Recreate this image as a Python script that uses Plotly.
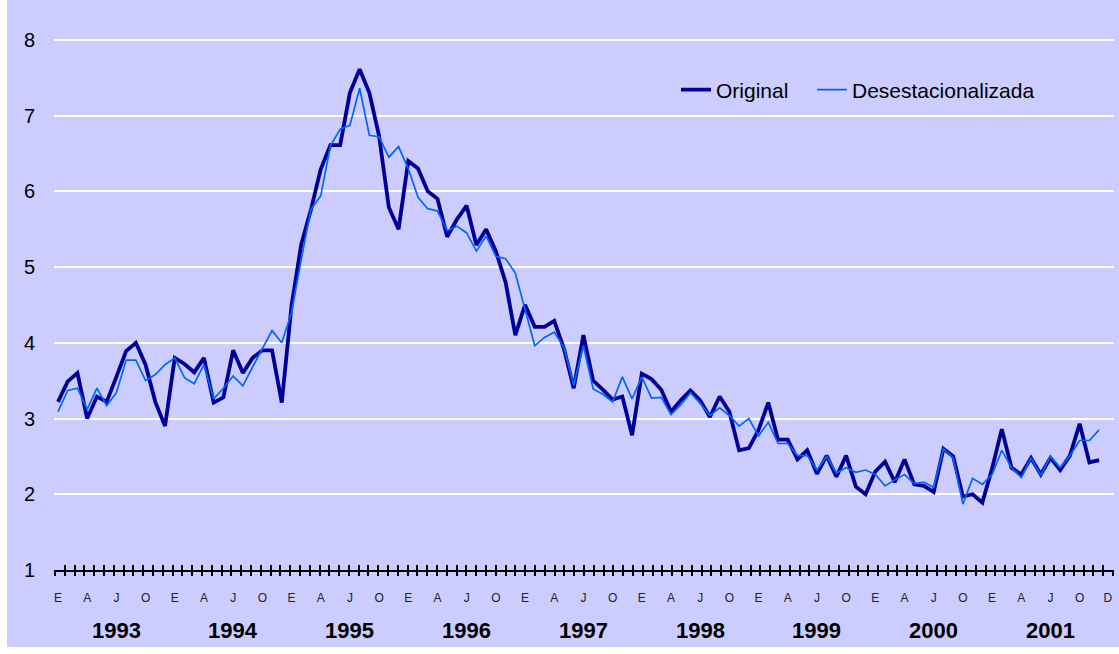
import plotly.graph_objects as go

# ---------------- data ----------------
YEARS = [1993, 1994, 1995, 1996, 1997, 1998, 1999, 2000, 2001]
QUARTER_LETTERS = ["E", "A", "J", "O"]   # enero, abril, julio, octubre
END_LETTER = "D"                          # diciembre 2001

ORIGINAL = [
    3.22, 3.49, 3.60, 3.00, 3.29, 3.22, 3.55, 3.89, 4.00, 3.71, 3.22, 2.90,   # 1993
    3.80, 3.72, 3.61, 3.80, 3.21, 3.28, 3.90, 3.60, 3.80, 3.90, 3.90, 3.21,   # 1994
    4.49, 5.30, 5.76, 6.29, 6.61, 6.61, 7.30, 7.61, 7.30, 6.73, 5.79, 5.50,   # 1995
    6.40, 6.30, 6.00, 5.90, 5.40, 5.63, 5.81, 5.29, 5.50, 5.21, 4.80, 4.10,   # 1996
    4.50, 4.21, 4.21, 4.29, 3.92, 3.40, 4.10, 3.50, 3.38, 3.25, 3.29, 2.78,   # 1997
    3.59, 3.52, 3.38, 3.09, 3.24, 3.37, 3.24, 3.02, 3.29, 3.09, 2.58, 2.61,   # 1998
    2.85, 3.21, 2.72, 2.72, 2.46, 2.58, 2.27, 2.51, 2.23, 2.51, 2.10, 2.00,   # 1999
    2.30, 2.43, 2.16, 2.46, 2.13, 2.11, 2.03, 2.60, 2.50, 1.97, 2.00, 1.89,   # 2000
    2.34, 2.86, 2.35, 2.26, 2.48, 2.26, 2.48, 2.32, 2.51, 2.93, 2.42, 2.45,   # 2001
]

DESESTACIONALIZADA = [
    3.09, 3.37, 3.40, 3.12, 3.40, 3.17, 3.34, 3.77, 3.77, 3.50, 3.58, 3.71,   # 1993
    3.80, 3.54, 3.46, 3.71, 3.26, 3.40, 3.56, 3.43, 3.68, 3.91, 4.16, 4.00,   # 1994
    4.40, 5.10, 5.76, 5.94, 6.60, 6.82, 6.87, 7.36, 6.74, 6.72, 6.45, 6.59,   # 1995
    6.30, 5.92, 5.77, 5.74, 5.48, 5.54, 5.45, 5.21, 5.41, 5.14, 5.11, 4.92,   # 1996
    4.45, 3.96, 4.07, 4.14, 3.94, 3.44, 3.96, 3.39, 3.32, 3.22, 3.55, 3.26,   # 1997
    3.55, 3.27, 3.28, 3.05, 3.18, 3.34, 3.20, 3.04, 3.14, 3.04, 2.90, 3.00,   # 1998
    2.77, 2.95, 2.67, 2.67, 2.51, 2.51, 2.32, 2.50, 2.28, 2.35, 2.29, 2.32,   # 1999
    2.26, 2.11, 2.19, 2.26, 2.14, 2.16, 2.09, 2.60, 2.48, 1.87, 2.21, 2.13,   # 2000
    2.26, 2.58, 2.35, 2.22, 2.48, 2.25, 2.50, 2.35, 2.51, 2.71, 2.71, 2.85,   # 2001
]

SERIES_NAMES = ["Original", "Desestacionalizada"]

# ---------------- layout geometry ----------------
W, H = 1119, 654
PLOT_L, PLOT_R, PLOT_T, PLOT_B = 54, 1114, 36, 570
PX_PER_MONTH = 9.73
FIRST_POINT_PX = 58

n = len(ORIGINAL)
months = list(range(n))

x_lo = -(FIRST_POINT_PX - PLOT_L) / PX_PER_MONTH
x_hi = x_lo + (PLOT_R - PLOT_L) / PX_PER_MONTH
y_range = [1, 8.05]

# tick marks (category boundaries) and month-letter labels
tick_step = (PLOT_R - 1 - (PLOT_L + 1)) / n / PX_PER_MONTH
tick0 = x_lo + 1 / PX_PER_MONTH

label_vals = []
label_text = []
for y_i in range(len(YEARS)):
    for q, letter in enumerate(QUARTER_LETTERS):
        label_vals.append(12 * y_i + 3 * q)
        label_text.append(letter)
label_vals.append(n - 0.1)
label_text.append(END_LETTER)

BG = "#CCCCFF"
FONT = "Liberation Sans, Arial, sans-serif"
PW = PLOT_R - PLOT_L
PH = PLOT_B - PLOT_T

fig = go.Figure()
fig.add_trace(go.Scatter(
    x=months, y=ORIGINAL, name=SERIES_NAMES[0], mode="lines",
    line=dict(color="#000099", width=3.8), legend="legend",
))
fig.add_trace(go.Scatter(
    x=months, y=DESESTACIONALIZADA, name=SERIES_NAMES[1], mode="lines",
    line=dict(color="#0066FF", width=1.7), legend="legend2",
))
# empty helper traces so the overlay tick axes are instantiated
fig.add_trace(go.Scatter(x=[], y=[], xaxis="x2", showlegend=False, hoverinfo="skip"))
fig.add_trace(go.Scatter(x=[], y=[], xaxis="x3", showlegend=False, hoverinfo="skip"))

# year annotations centred on mid-year
for y_i, yr in enumerate(YEARS):
    fig.add_annotation(
        x=12 * y_i + 6, xref="x",
        y=(PLOT_B - 630) / PH, yref="paper",
        text=str(yr), showarrow=False,
        font=dict(family=FONT, size=22, color="#000000", weight="bold"),
        xanchor="center", yanchor="middle",
    )

# lavender chart area (white strip at left and bottom)
fig.add_shape(
    type="rect", xref="paper", yref="paper", layer="below",
    x0=(7 - PLOT_L) / PW, x1=(W + 5 - PLOT_L) / PW,
    y0=(PLOT_B - 647) / PH, y1=(PLOT_B + 5) / PH,
    fillcolor=BG, line=dict(width=0),
)

legend_common = dict(
    orientation="h", xanchor="left", yanchor="middle",
    y=(PLOT_B - 90) / PH,
    bgcolor="rgba(0,0,0,0)",
    font=dict(family=FONT, size=21, color="#000000"),
)

fig.update_layout(
    width=W, height=H,
    margin=dict(l=PLOT_L, r=W - PLOT_R, t=PLOT_T, b=H - PLOT_B, autoexpand=False),
    paper_bgcolor="#FFFFFF",
    plot_bgcolor=BG,
    font=dict(family=FONT, color="#000000"),
    showlegend=True,
    legend=dict(x=(676 - PLOT_L) / PW, **legend_common),
    legend2=dict(x=(812 - PLOT_L) / PW, **legend_common),
    xaxis=dict(
        range=[x_lo, x_hi],
        tickmode="array", tickvals=label_vals, ticktext=label_text,
        ticks="outside", ticklen=16, tickcolor="rgba(0,0,0,0)",
        tickfont=dict(family=FONT, size=12, color="#222222"),
        showline=True, linecolor="#000000", linewidth=2,
        showgrid=False, zeroline=False,
    ),
    xaxis2=dict(
        range=[x_lo, x_hi], overlaying="x", anchor="y", side="bottom",
        tickmode="linear", tick0=tick0, dtick=tick_step,
        ticks="outside", ticklen=5, tickwidth=2, tickcolor="#000000",
        showticklabels=False, showline=False, showgrid=False, zeroline=False,
    ),
    xaxis3=dict(
        range=[x_lo, x_hi], overlaying="x", anchor="y", side="bottom",
        tickmode="linear", tick0=tick0, dtick=tick_step,
        ticks="inside", ticklen=5, tickwidth=2, tickcolor="#000000",
        showticklabels=False, showline=False, showgrid=False, zeroline=False,
    ),
    yaxis=dict(
        range=y_range, tickmode="linear", tick0=1, dtick=1,
        ticks="outside", ticklen=14, tickcolor="rgba(0,0,0,0)",
        tickfont=dict(family=FONT, size=20, color="#000000"),
        showgrid=True, gridcolor="#FFFFFF", gridwidth=2,
        showline=False, zeroline=False,
    ),
)

fig.write_html(
    "out.html",
    config={"displayModeBar": False},
    post_script="document.body.style.margin='0px';",
)
